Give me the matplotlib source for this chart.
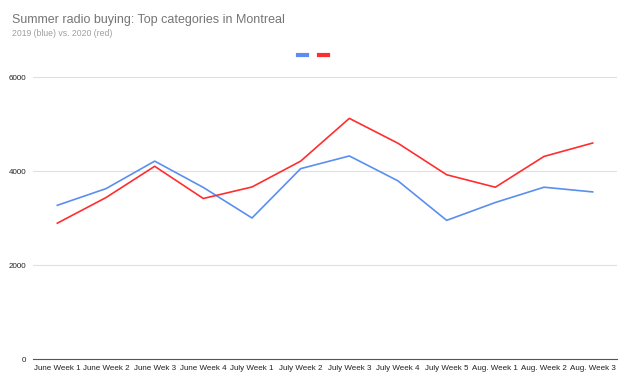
import matplotlib.pyplot as plt
from matplotlib.lines import Line2D

plt.rcParams['font.family'] = ['Liberation Sans', 'DejaVu Sans']

weeks = ['June Week 1', 'June Week 2', 'June Wek 3', 'June Week 4', 'July Week 1',
         'July Week 2', 'July Week 3', 'July Week 4', 'July Week 5', 'Aug. Week 1',
         'Aug. Week 2', 'Aug. Week 3']
buying_2019 = [3270, 3625, 4210, 3650, 3000, 4050, 4320, 3790, 2950, 3330, 3655, 3555]
buying_2020 = [2890, 3435, 4100, 3415, 3660, 4210, 5120, 4590, 3920, 3655, 4310, 4595]

blue = '#5a8ff0'
red = '#ff2e2e'

fig = plt.figure(figsize=(6.22, 3.83), dpi=100)
ax = fig.add_axes([33/622, 1 - 359/383, 584/622, (359 - 77)/383])

x = range(len(weeks))
ax.plot(x, buying_2019, color=blue, lw=1.2, label='2019')
ax.plot(x, buying_2020, color=red, lw=1.2, label='2020')

ax.set_xlim(-0.5, len(weeks) - 0.5)
ax.set_ylim(0, 6000)
ax.set_yticks([0, 2000, 4000, 6000])
ax.set_xticks(list(x))
ax.set_xticklabels(weeks, fontsize=5.8, color='#222222')
ax.tick_params(axis='y', labelsize=5.8, labelcolor='#222222', length=0, pad=5)
ax.tick_params(axis='x', length=0, pad=4)
ax.grid(axis='y', color='#e0e0e0', lw=0.8)
ax.set_axisbelow(True)
for s in ['top', 'right', 'left']:
    ax.spines[s].set_visible(False)
ax.spines['bottom'].set_color('#555555')
ax.spines['bottom'].set_linewidth(0.8)

# legend: two short dashes, no text
handles = [Line2D([0], [0], color=blue, lw=3), Line2D([0], [0], color=red, lw=3)]
fig.legend(handles, ['', ''], loc='center', bbox_to_anchor=(313/622, 1 - 56/383),
           ncol=2, frameon=False, handlelength=0.65, handletextpad=0, columnspacing=0.9)

fig.text(12/622, 1 - 20/383, 'Summer radio buying: Top categories in Montreal',
         fontsize=9, color='#757575', va='center')
fig.text(12/622, 1 - 34/383, '2019 (blue) vs. 2020 (red)',
         fontsize=6.2, color='#9e9e9e', va='center')

fig.savefig('out.png', dpi=100)
